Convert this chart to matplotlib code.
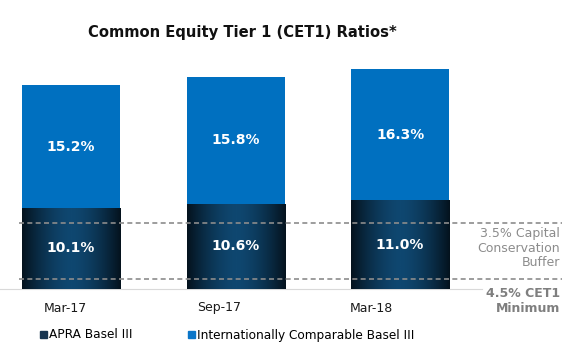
import numpy as np
import matplotlib
matplotlib.use("Agg")
import matplotlib.pyplot as plt
from matplotlib.colors import LinearSegmentedColormap
from matplotlib.patches import Patch

periods = ["Mar-17", "Sep-17", "Mar-18"]
apra = [10.1, 10.6, 11.0]
intl = [15.2, 15.8, 16.3]
ref_lines = [1.2, 8.25]   # dashed lines as drawn in the source

DARK = "#0b2236"
BLUE = "#0070c0"
GREY = "#8c8c8c"

plt.rcParams["font.family"] = "DejaVu Sans"

fig = plt.figure(figsize=(5.62, 3.58), dpi=100)
ax = fig.add_axes([0.0, 69/358, 482/562, 249.5/358])

x = np.arange(len(periods))
w = 0.596
dark_bars = ax.bar(x, apra, width=w, color=DARK, zorder=2)
ax.bar(x, intl, width=w, bottom=apra, color=BLUE, zorder=2)

# horizontal shading on the APRA bars: dark edges, lighter centre
cmap = LinearSegmentedColormap.from_list("navy", ["#04121d", "#0f4770"])
grad = 1 - np.abs(np.linspace(-1, 1, 256)) ** 1.6
for b in dark_bars:
    x0, y0 = b.get_x(), b.get_y()
    im = ax.imshow(grad[None, :], extent=[x0, x0 + b.get_width(), y0, y0 + b.get_height()],
                   cmap=cmap, aspect="auto", zorder=3)
    im.set_clip_path(b)

for i in range(len(periods)):
    ax.text(x[i], apra[i] / 2, "%.1f%%" % apra[i], ha="center", va="center",
            color="white", fontsize=10, fontweight="bold", zorder=5)
    ax.text(x[i], apra[i] + intl[i] / 2, "%.1f%%" % intl[i], ha="center", va="center",
            color="white", fontsize=10, fontweight="bold", zorder=5)

for r in ref_lines:
    ax.axhline(r, xmin=19/482, xmax=562/482, color=GREY, ls=(0, (3, 2)), lw=1.2,
               clip_on=False, zorder=4)

ax.set_xlim(-0.432, 2.498)
ax.set_ylim(0, 31)
for s in ["top", "right", "left"]:
    ax.spines[s].set_visible(False)
ax.spines["bottom"].set_color("#d9d9d9")
ax.set_yticks([])
ax.set_xticks(x * 0.93 - 0.033)
ax.set_xticklabels(periods, fontsize=9, color="#1a1a1a")
ax.tick_params(axis="x", length=0, pad=9)

fig.text(242/562, 1 - 33/358, "Common Equity Tier 1 (CET1) Ratios*", ha="center", va="center",
         fontsize=10.6, fontweight="bold", color="#111111")

fig.text(560/562, 1 - 248/358, "3.5% Capital\nConservation\nBuffer", ha="right", va="center",
         fontsize=9, color=GREY, linespacing=1.1)
fig.text(560/562, 1 - 301/358, "4.5% CET1\nMinimum", ha="right", va="center",
         fontsize=9, fontweight="bold", color="#7f7f7f", linespacing=1.15)

handles = [Patch(color="#163450", label="APRA Basel III"),
           Patch(color="#0a75c8", label="Internationally Comparable Basel III")]
fig.legend(handles=handles, loc="center left", bbox_to_anchor=(40/562, 1 - 335/358), ncol=2,
           frameon=False, fontsize=8.7, handlelength=0.55, handleheight=0.55, handletextpad=0.2,
           columnspacing=4.6, borderaxespad=0, borderpad=0)

fig.savefig("out.png", dpi=100)
